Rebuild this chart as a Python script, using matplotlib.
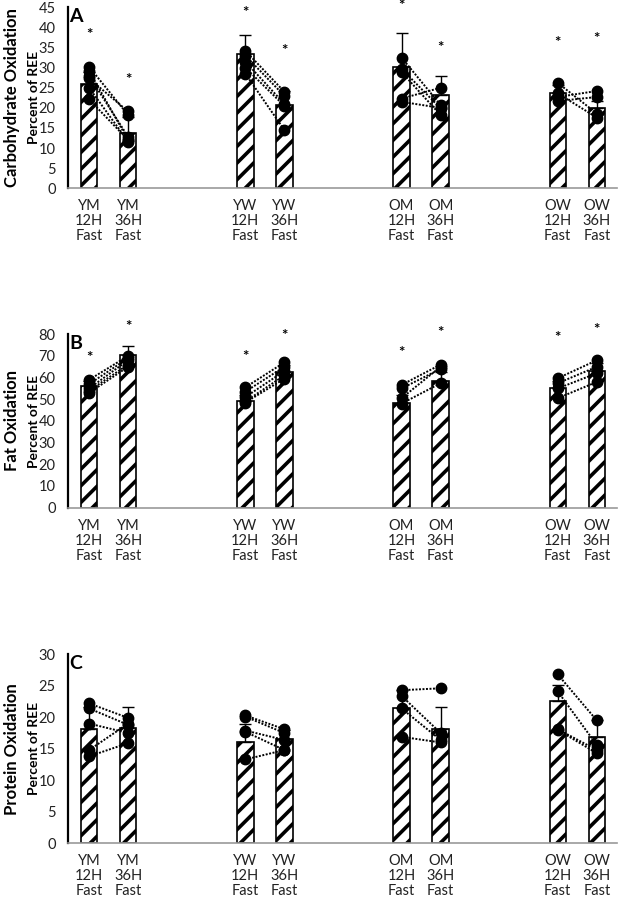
import matplotlib.pyplot as plt

plt.rcParams['font.family'] = ['Lato', 'DejaVu Sans']
plt.rcParams['hatch.linewidth'] = 2.6

# Groupes et positions
groups = ['YM', 'YW', 'OM', 'OW']
xlabels = ['YM\n12H\nFast', 'YM\n36H\nFast', 'YW\n12H\nFast', 'YW\n36H\nFast',
           'OM\n12H\nFast', 'OM\n36H\nFast', 'OW\n12H\nFast', 'OW\n36H\nFast']
xpos = [0, 1, 4, 5, 8, 9, 12, 13]

# Panel A - glucides
carb_mean = [25.9, 13.7, 33.4, 20.8, 30.2, 23.1, 23.6, 20.0]
carb_sd = [3.0, 4.0, 4.7, 3.5, 8.4, 4.7, 2.0, 1.8]
carb_star = [38.0, 26.9, 43.5, 34.2, 45.2, 35.0, 36.2, 37.0]
carb_12 = {'YM': [30.2, 29.2, 27.9, 27.3, 25.0, 22.1],
           'YW': [34.2, 33.0, 31.5, 30.0, 28.5],
           'OM': [32.5, 29.7, 28.9, 22.3, 21.5],
           'OW': [26.2, 23.6, 22.7, 21.7]}
carb_36 = {'YM': [18.2, 12.0, 12.8, 19.1, 11.6, 12.0],
           'YW': [24.0, 23.0, 21.0, 20.5, 14.5],
           'OM': [20.7, 19.9, 18.2, 25.0, 20.0],
           'OW': [18.6, 17.6, 24.2, 22.7]}

# Panel B - lipides
fat_mean = [56.0, 70.2, 49.2, 62.8, 48.5, 58.6, 55.1, 63.1]
fat_sd = [2.5, 4.3, 3.0, 2.8, 3.5, 4.0, 3.5, 3.5]
fat_star = [68.9, 83.5, 69.4, 79.2, 71.2, 80.8, 78.2, 81.8]
fat_12 = {'YM': [59.0, 57.0, 55.0, 54.0, 53.0],
          'YW': [55.5, 53.5, 51.0, 49.0, 48.5],
          'OM': [56.6, 55.0, 50.5, 48.0],
          'OW': [59.7, 57.4, 55.0, 50.5]}
fat_36 = {'YM': [70.0, 69.0, 68.0, 66.0, 65.0],
          'YW': [67.0, 65.0, 63.0, 61.0, 59.5],
          'OM': [66.0, 64.0, 65.0, 57.4],
          'OW': [68.0, 65.0, 62.0, 58.0]}

# Panel C - protéines
prot_mean = [18.1, 18.3, 16.0, 16.5, 21.4, 18.1, 22.6, 16.8]
prot_sd = [3.5, 3.4, 2.9, 1.5, 3.0, 3.6, 2.5, 2.8]
prot_12 = {'YM': [22.2, 21.4, 19.0, 14.8, 13.8],
           'YW': [20.3, 20.1, 17.9, 17.7, 13.3],
           'OM': [24.3, 23.4, 21.4, 16.9],
           'OW': [26.8, 24.1, 18.1, 18.0]}
prot_36 = {'YM': [19.9, 18.8, 17.5, 19.0, 15.9],
           'YW': [18.1, 17.5, 16.4, 14.8, 14.8],
           'OM': [24.6, 17.5, 16.4, 16.0],
           'OW': [19.5, 15.6, 14.8, 14.3]}

fig = plt.figure(figsize=(6.2, 8.99), dpi=100)


def draw_panel(rect, mean, sd, d12, d36, ymax, ystep, letter, title, stars=None):
    ax = fig.add_axes(rect)
    ax.bar(xpos, mean, width=0.42, color='white', edgecolor='black',
           linewidth=1.2, hatch='//', zorder=2)
    ax.errorbar(xpos, mean, yerr=[[0] * len(sd), sd], fmt='none',
                ecolor='black', elinewidth=1, capsize=4, capthick=1, zorder=3)
    for i, g in enumerate(groups):
        x0, x1 = xpos[2 * i], xpos[2 * i + 1]
        for a, b in zip(d12[g], d36[g]):
            ax.plot([x0, x1], [a, b], color='black', linestyle=(0, (1, 0.8)),
                    linewidth=1.4, zorder=4)
        ax.plot([x0] * len(d12[g]), d12[g], 'o', color='black', markersize=7.5, zorder=5)
        ax.plot([x1] * len(d36[g]), d36[g], 'o', color='black', markersize=7.5, zorder=5)
    if stars is not None:
        for x, s in zip(xpos, stars):
            ax.text(x, s, '*', ha='center', va='center', fontsize=11,
                    fontweight='bold', clip_on=False)
    ax.set_xlim(-0.54, 13.51)
    ax.set_ylim(0, ymax)
    ax.set_yticks(range(0, ymax + 1, ystep))
    ax.set_xticks(xpos)
    ax.set_xticklabels(xlabels, fontsize=10.5, linespacing=1.08, color='#222222')
    ax.tick_params(axis='both', length=0)
    ax.tick_params(axis='y', labelsize=10.5, pad=9, labelcolor='#222222')
    ax.tick_params(axis='x', pad=8)
    ax.spines['top'].set_visible(False)
    ax.spines['right'].set_visible(False)
    ax.spines['left'].set_color('black')
    ax.spines['left'].set_linewidth(1.6)
    ax.spines['bottom'].set_color('#999999')
    ax.spines['bottom'].set_linewidth(1.2)
    ax.text(0.002, 0.995, letter, transform=ax.transAxes, ha='left', va='top',
            fontsize=14, fontweight='bold')
    yc = rect[1] + rect[3] / 2
    fig.text(0.019, yc, title, rotation=90, ha='center', va='center',
             fontsize=12, fontweight='bold')
    fig.text(0.055, yc, 'Percent of REE', rotation=90, ha='center', va='center',
             fontsize=10, fontweight='bold')
    return ax


draw_panel([0.1097, 0.7905, 0.885, 0.2014], carb_mean, carb_sd, carb_12, carb_36,
           45, 5, 'A', 'Carbohydrate Oxidation', carb_star)
draw_panel([0.1097, 0.4353, 0.885, 0.1929], fat_mean, fat_sd, fat_12, fat_36,
           80, 10, 'B', 'Fat Oxidation', fat_star)
draw_panel([0.1097, 0.0620, 0.885, 0.2102], prot_mean, prot_sd, prot_12, prot_36,
           30, 5, 'C', 'Protein Oxidation')

plt.savefig('out.png', dpi=100)
